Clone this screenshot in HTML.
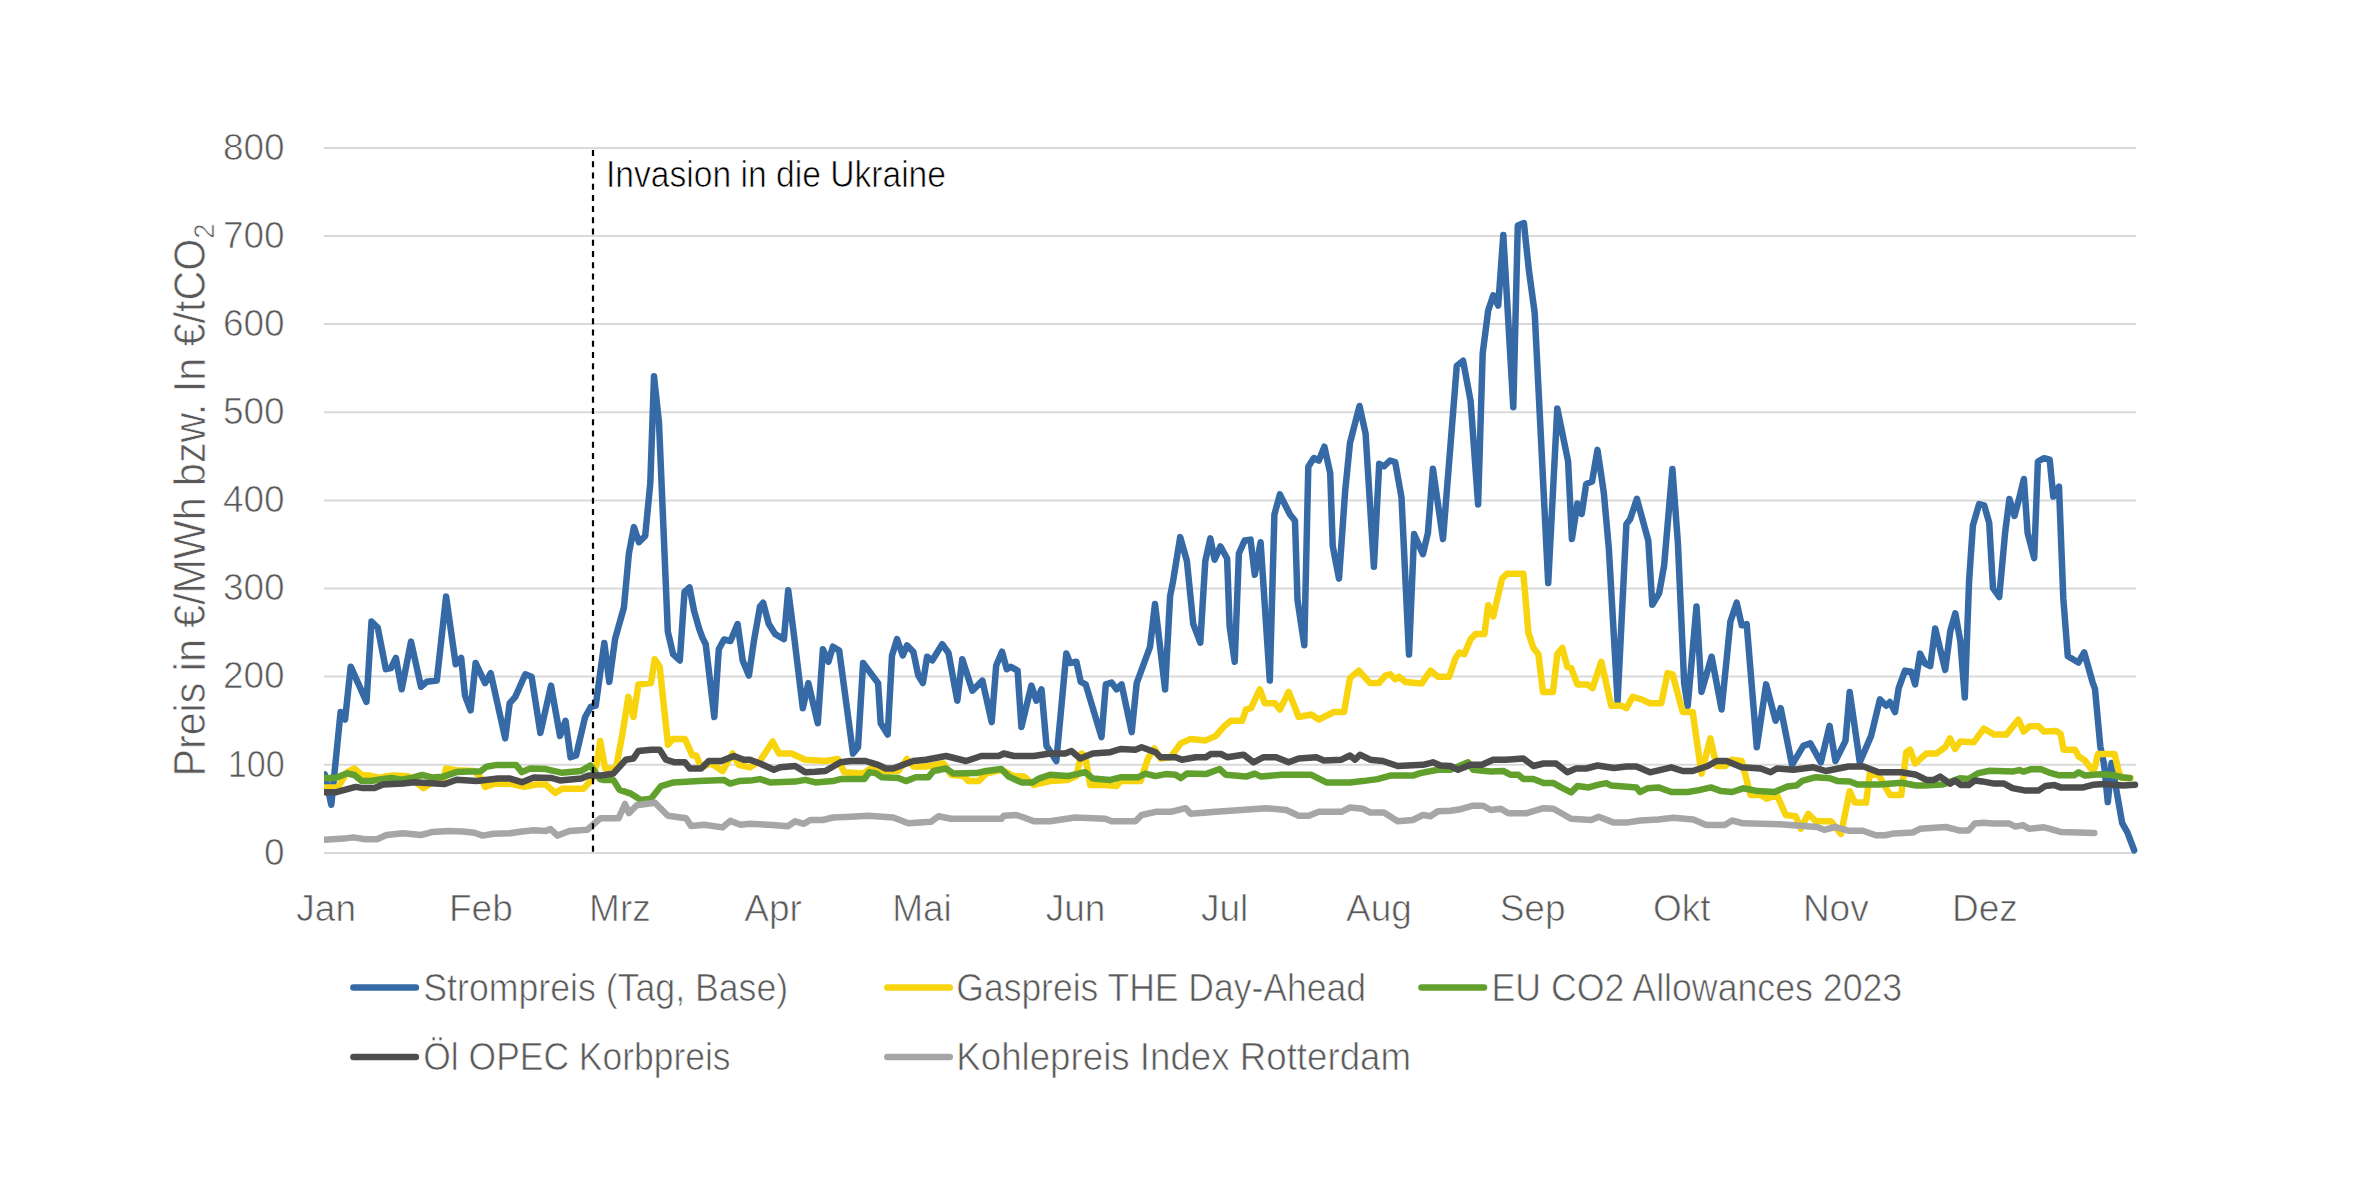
<!DOCTYPE html>
<html><head><meta charset="utf-8"><style>
html,body{margin:0;padding:0;background:#fff;}
svg{display:block;}
text{font-family:"Liberation Sans",sans-serif;stroke:#fff;stroke-width:0.7px;}
.ax{font-size:37px;fill:#595959;}
.ann{font-size:36px;fill:#000;}
.leg{font-size:39px;fill:#595959;}
.yt{font-size:45px;fill:#595959;}
</style></head><body>
<svg width="2357" height="1194" viewBox="0 0 2357 1194">
<rect width="2357" height="1194" fill="#fff"/>
<defs><clipPath id="pa"><rect x="324" y="0" width="1900" height="1194"/></clipPath></defs>
<line x1="324" y1="852.9" x2="2136" y2="852.9" stroke="#D9D9D9" stroke-width="2"/>
<line x1="324" y1="764.8" x2="2136" y2="764.8" stroke="#D9D9D9" stroke-width="2"/>
<line x1="324" y1="676.6" x2="2136" y2="676.6" stroke="#D9D9D9" stroke-width="2"/>
<line x1="324" y1="588.5" x2="2136" y2="588.5" stroke="#D9D9D9" stroke-width="2"/>
<line x1="324" y1="500.4" x2="2136" y2="500.4" stroke="#D9D9D9" stroke-width="2"/>
<line x1="324" y1="412.3" x2="2136" y2="412.3" stroke="#D9D9D9" stroke-width="2"/>
<line x1="324" y1="324.1" x2="2136" y2="324.1" stroke="#D9D9D9" stroke-width="2"/>
<line x1="324" y1="236.0" x2="2136" y2="236.0" stroke="#D9D9D9" stroke-width="2"/>
<line x1="324" y1="147.9" x2="2136" y2="147.9" stroke="#D9D9D9" stroke-width="2"/>
<text x="284.7" y="864.7" text-anchor="end" class="ax">0</text>
<text x="284.7" y="776.6" text-anchor="end" class="ax" textLength="57" lengthAdjust="spacingAndGlyphs">100</text>
<text x="284.7" y="688.4" text-anchor="end" class="ax">200</text>
<text x="284.7" y="600.3" text-anchor="end" class="ax">300</text>
<text x="284.7" y="512.2" text-anchor="end" class="ax">400</text>
<text x="284.7" y="424.1" text-anchor="end" class="ax">500</text>
<text x="284.7" y="335.9" text-anchor="end" class="ax">600</text>
<text x="284.7" y="247.8" text-anchor="end" class="ax">700</text>
<text x="284.7" y="159.7" text-anchor="end" class="ax">800</text>
<text x="326.2" y="921" text-anchor="middle" class="ax">Jan</text>
<text x="480.9" y="921" text-anchor="middle" class="ax">Feb</text>
<text x="619.9" y="921" text-anchor="middle" class="ax">Mrz</text>
<text x="773.1" y="921" text-anchor="middle" class="ax">Apr</text>
<text x="922" y="921" text-anchor="middle" class="ax">Mai</text>
<text x="1075.5" y="921" text-anchor="middle" class="ax">Jun</text>
<text x="1224.7" y="921" text-anchor="middle" class="ax">Jul</text>
<text x="1379" y="921" text-anchor="middle" class="ax">Aug</text>
<text x="1532.6" y="921" text-anchor="middle" class="ax">Sep</text>
<text x="1681.7" y="921" text-anchor="middle" class="ax">Okt</text>
<text x="1835.8" y="921" text-anchor="middle" class="ax">Nov</text>
<text x="1984.9" y="921" text-anchor="middle" class="ax">Dez</text>
<polyline points="324.8,774.4 331.3,804.7 340.6,712.0 345.1,719.5 350.7,666.7 366.5,701.9 371.5,621.5 377.8,627.8 385.8,669.2 391.0,668.0 395.9,658.0 401.7,689.3 411.0,641.6 421.0,686.8 426.8,681.8 436.8,680.6 446.1,596.4 455.7,664.2 461.2,658.0 465.0,695.7 470.6,710.3 475.6,663.0 485.1,683.1 490.7,673.1 505.2,738.4 509.7,703.2 515.3,696.9 525.3,674.3 531.6,676.8 540.4,732.9 551.0,685.6 560.0,735.9 565.5,720.8 570.6,757.2 576.1,755.5 585.1,717.0 590.7,707.0 595.7,705.7 604.3,643.0 609.3,681.9 615.1,638.9 623.9,607.5 628.9,553.5 633.9,527.1 638.9,542.2 645.2,535.9 650.3,483.1 654.0,376.3 659.0,422.8 667.8,631.4 673.1,654.2 679.8,660.5 684.5,592.0 689.5,587.5 694.2,611.3 699.2,628.8 702.5,637.9 705.7,644.2 714.3,717.0 718.8,649.2 724.0,639.5 730.5,641.0 737.6,624.0 742.7,660.5 748.9,675.6 754.0,640.4 760.0,606.5 763.1,602.7 768.8,624.1 775.1,634.1 783.9,639.1 788.2,590.2 794.0,635.4 802.8,708.2 808.3,683.1 817.8,723.3 822.9,649.2 828.4,661.8 832.9,646.7 839.2,650.5 853.0,753.5 858.0,747.2 863.1,663.0 878.1,683.1 880.7,723.3 887.7,734.6 892.0,655.5 897.0,639.1 902.8,655.5 907.0,645.4 913.3,651.7 918.3,675.6 922.9,683.1 927.1,656.7 932.2,660.5 942.2,644.2 948.5,653.0 957.3,700.7 962.3,659.2 972.4,690.7 982.4,680.6 991.7,722.1 996.2,665.5 1002.0,651.7 1006.8,669.3 1010.8,666.8 1017.6,670.6 1021.4,727.1 1031.4,685.6 1036.4,700.7 1041.5,689.4 1046.5,745.9 1050.0,751.0 1056.3,761.0 1066.3,653.5 1070.1,663.0 1076.4,661.8 1080.7,681.9 1085.7,684.4 1101.5,737.1 1105.8,684.4 1111.6,682.6 1116.6,689.4 1121.6,684.4 1131.7,732.1 1136.7,683.1 1150.0,647.0 1155.0,604.0 1165.1,689.4 1170.1,596.2 1173.1,581.1 1180.2,537.1 1186.9,561.0 1193.2,623.8 1200.3,642.7 1205.3,561.0 1210.3,538.4 1214.6,559.7 1220.4,546.4 1227.1,558.5 1229.6,626.3 1234.7,661.8 1238.9,553.5 1244.7,540.4 1250.5,539.6 1254.8,574.8 1260.6,542.2 1269.8,680.6 1274.4,514.5 1279.9,494.4 1284.9,504.5 1290.0,514.5 1295.0,520.8 1297.5,600.0 1304.3,645.2 1308.3,466.8 1313.8,458.0 1318.8,460.5 1324.4,446.7 1330.2,473.1 1332.7,545.9 1339.0,578.6 1345.2,490.7 1350.0,442.9 1359.5,406.0 1365.6,433.6 1373.9,566.8 1379.2,463.8 1383.9,466.3 1390.0,460.5 1395.2,462.0 1401.5,497.5 1409.0,654.5 1414.1,534.1 1422.9,554.2 1427.9,532.9 1432.9,468.8 1443.0,539.1 1456.8,365.8 1463.1,360.8 1470.6,401.0 1478.1,504.5 1482.7,353.2 1488.2,310.5 1493.2,295.4 1498.2,305.5 1503.3,235.1 1513.3,407.2 1517.8,225.6 1523.9,223.1 1528.9,270.3 1534.7,313.0 1548.2,583.0 1557.3,408.5 1568.1,461.3 1571.9,539.1 1577.4,503.5 1581.7,514.0 1586.2,483.9 1592.0,481.6 1597.5,449.9 1603.8,492.7 1608.8,547.9 1617.6,701.0 1626.4,524.1 1630.2,519.0 1636.9,498.9 1648.3,540.6 1652.3,604.7 1659.1,593.4 1664.1,565.7 1672.4,469.0 1677.9,543.1 1684.2,683.8 1687.7,706.0 1696.5,606.5 1701.5,691.9 1711.6,656.7 1721.6,709.5 1730.4,621.6 1736.7,602.7 1741.7,625.3 1746.7,624.1 1756.8,747.2 1766.1,684.4 1775.6,720.8 1780.7,708.2 1792.0,764.8 1803.3,745.9 1810.3,743.4 1820.9,762.3 1829.6,725.8 1835.4,761.0 1845.5,740.9 1849.7,691.9 1859.8,762.3 1871.1,735.9 1879.9,699.4 1886.2,705.7 1889.9,702.0 1895.0,712.0 1898.7,688.1 1905.0,670.6 1911.3,671.8 1915.1,684.4 1920.1,653.6 1925.1,663.6 1930.2,666.1 1935.2,628.4 1945.2,669.9 1950.3,631.0 1955.3,613.4 1960.3,641.0 1964.8,697.5 1969.1,580.7 1972.9,525.4 1979.1,504.1 1984.2,505.3 1989.2,522.9 1993.0,588.2 1999.2,597.0 2005.2,532.0 2009.4,499.0 2014.5,516.0 2019.3,497.8 2023.9,479.0 2027.6,533.0 2034.2,558.2 2037.9,461.5 2044.0,458.2 2049.7,459.7 2053.3,496.6 2059.0,486.6 2063.3,598.4 2067.8,656.2 2078.4,662.5 2084.2,652.4 2092.5,682.0 2095.0,689.0 2100.3,746.3 2104.1,764.4 2107.8,802.1 2111.6,762.9 2122.2,823.2 2127.4,832.3 2134.2,850.4" fill="none" stroke="#356AA6" stroke-width="6.5" stroke-linejoin="round" stroke-linecap="round" clip-path="url(#pa)"/>
<polyline points="324.2,787.5 337.8,787.5 347.3,772.1 354.4,768.5 361.6,775.0 369.9,775.6 379.4,778.0 386.5,776.2 393.7,775.6 407.9,776.2 415.0,781.6 423.4,788.1 432.9,782.2 443.5,779.2 445.9,768.5 456.6,770.3 474.4,770.9 481.6,779.2 485.1,786.9 495.8,783.4 512.4,784.0 524.3,786.9 536.2,784.5 545.7,784.5 555.2,792.9 562.3,788.7 583.7,788.7 592.0,779.2 596.8,763.8 600.2,741.0 605.2,768.5 615.8,768.5 622.1,735.9 628.3,696.9 633.4,717.0 638.4,684.4 651.0,683.1 654.7,659.2 659.7,666.8 668.0,744.7 673.1,738.9 684.9,738.9 692.4,755.5 696.2,755.5 701.2,767.3 711.3,763.5 722.6,771.0 732.6,753.5 738.9,764.8 750.0,767.3 760.0,761.0 772.6,741.4 778.9,753.5 791.5,753.5 805.3,759.7 825.4,761.0 837.9,759.0 844.2,772.3 863.1,773.6 870.6,768.5 883.2,771.0 898.2,771.0 907.0,759.0 913.3,766.5 925.9,766.5 943.5,763.5 951.0,774.8 963.6,776.1 968.6,781.1 978.6,781.1 986.2,773.6 1001.3,769.8 1013.8,776.1 1023.9,776.6 1033.9,784.9 1050.0,781.1 1067.6,779.9 1076.4,776.1 1081.4,753.5 1085.2,756.0 1090.2,784.9 1105.3,784.9 1116.6,786.1 1120.4,781.1 1140.5,781.1 1148.0,758.5 1154.3,748.4 1160.6,758.5 1170.6,757.2 1180.7,743.4 1190.7,738.9 1205.8,740.4 1215.8,735.9 1223.4,727.1 1230.9,720.8 1242.2,720.8 1246.0,709.5 1251.0,708.2 1259.8,689.4 1264.8,703.2 1274.9,703.2 1279.9,709.5 1288.7,691.9 1298.7,717.0 1311.3,714.5 1318.8,719.5 1333.9,712.0 1344.0,712.0 1350.0,678.1 1358.8,670.6 1370.1,683.1 1378.9,683.1 1385.2,675.6 1390.2,674.3 1395.2,679.3 1399.0,676.8 1405.3,681.9 1421.6,683.6 1430.4,670.6 1437.9,676.8 1449.2,676.8 1455.5,658.0 1459.3,652.5 1464.3,654.2 1470.6,639.1 1475.6,634.1 1484.4,634.1 1488.2,605.2 1493.2,616.5 1502.0,578.8 1507.0,573.8 1523.4,573.8 1528.4,632.9 1533.4,647.9 1538.4,654.2 1543.0,691.9 1553.0,691.9 1557.3,654.2 1562.3,647.9 1567.3,666.8 1571.1,668.0 1577.4,684.4 1587.4,684.4 1592.5,688.1 1601.3,661.8 1611.3,705.7 1621.4,705.7 1626.4,708.2 1632.7,696.9 1641.5,699.4 1650.0,703.2 1661.3,703.2 1667.6,673.1 1672.6,674.3 1682.7,712.0 1692.7,712.0 1701.5,773.6 1710.3,738.4 1716.6,766.0 1725.4,766.0 1731.7,759.7 1741.7,761.0 1750.5,794.9 1760.6,794.9 1766.8,798.7 1776.9,794.9 1785.7,815.0 1795.7,816.3 1800.8,828.8 1808.3,813.8 1815.8,821.3 1830.9,821.3 1841.0,833.9 1849.7,791.2 1854.8,802.5 1866.1,802.5 1869.8,773.6 1878.6,774.8 1889.9,794.9 1901.3,794.9 1906.3,752.2 1910.1,749.7 1915.1,763.5 1926.4,753.5 1936.4,753.5 1945.2,747.2 1950.0,738.4 1955.1,749.0 1960.4,741.4 1973.9,742.2 1983.7,728.6 1994.3,734.6 2006.3,734.6 2018.4,719.6 2023.7,731.6 2029.7,726.3 2038.7,726.3 2044.0,731.6 2056.1,730.9 2060.6,733.9 2063.6,749.7 2074.9,749.7 2078.7,756.5 2084.7,760.3 2091.3,769.0 2094.3,769.0 2098.0,753.9 2114.6,753.9 2118.4,770.5 2121.4,778.0 2130.5,778.0" fill="none" stroke="#F7D40E" stroke-width="6.5" stroke-linejoin="round" stroke-linecap="round" clip-path="url(#pa)"/>
<polyline points="324.2,778.0 335.4,778.0 347.3,773.3 354.4,775.0 361.6,781.0 371.1,781.0 381.8,779.2 391.3,778.0 400.8,779.8 411.5,778.0 422.2,775.0 431.7,777.4 442.4,776.8 456.6,772.1 468.5,771.5 480.4,771.5 486.3,766.7 497.0,764.9 516.0,764.9 521.9,772.1 530.3,768.5 545.7,769.1 561.2,772.7 581.3,770.9 590.3,765.5 600.0,779.2 603.2,779.9 613.3,779.9 619.5,789.9 630.9,793.7 640.9,800.0 651.0,798.7 661.0,786.1 673.6,782.4 698.7,781.1 723.8,779.9 730.1,783.6 738.9,781.1 750.0,780.6 760.0,779.1 770.1,782.4 795.2,781.6 805.3,779.9 815.3,782.4 832.9,781.1 840.5,779.1 864.3,779.1 869.3,772.3 875.6,773.1 881.9,777.3 898.2,778.1 905.8,781.1 915.8,777.3 928.4,777.3 933.4,771.0 946.0,768.5 953.5,773.6 976.1,773.1 986.2,771.0 1001.3,769.0 1008.8,776.6 1021.4,782.4 1032.7,782.4 1038.9,778.6 1050.0,774.8 1067.6,776.1 1085.2,772.3 1092.7,778.6 1110.3,779.9 1120.4,777.3 1137.9,777.3 1145.5,773.6 1155.5,776.1 1165.6,774.1 1175.6,774.8 1180.7,778.1 1186.9,773.6 1205.8,774.1 1219.6,769.0 1225.9,774.8 1246.0,776.6 1254.8,773.6 1261.1,776.6 1281.2,774.8 1311.3,774.8 1326.4,782.4 1350.0,782.4 1362.6,781.1 1377.6,779.1 1390.2,775.6 1412.8,775.6 1420.4,773.1 1437.9,769.8 1450.5,769.8 1468.1,762.3 1473.1,769.8 1490.7,771.6 1503.3,771.0 1510.8,774.8 1518.3,774.8 1523.4,779.1 1533.4,779.1 1543.5,783.1 1553.5,783.1 1561.1,787.4 1571.1,792.4 1577.4,786.1 1588.7,787.4 1597.5,784.9 1606.3,783.1 1611.3,785.6 1636.4,787.4 1640.0,792.0 1647.4,788.3 1658.4,787.4 1671.3,792.0 1687.9,792.0 1699.0,790.1 1710.9,787.4 1721.1,791.1 1732.1,792.0 1743.2,788.3 1757.9,791.1 1774.5,792.0 1787.4,786.5 1796.6,785.5 1802.1,780.9 1815.0,777.3 1829.8,778.2 1837.1,780.9 1850.0,781.5 1857.4,784.6 1879.5,784.6 1901.6,782.8 1916.3,785.5 1923.7,785.5 1942.1,784.6 1960.0,778.2 1968.6,779.1 1978.4,773.1 1989.8,770.8 2012.4,771.6 2019.2,770.1 2023.7,771.6 2030.5,769.3 2041.0,769.3 2048.5,772.3 2059.1,775.3 2074.2,775.3 2078.7,772.3 2085.0,775.5 2100.3,774.2 2112.4,775.0 2121.4,777.2 2129.7,778.0" fill="none" stroke="#62A02E" stroke-width="6.5" stroke-linejoin="round" stroke-linecap="round" clip-path="url(#pa)"/>
<polyline points="324.2,792.3 335.4,792.3 355.6,786.9 362.8,788.1 374.6,788.1 383.0,784.5 403.2,783.4 413.8,782.2 444.7,784.0 456.6,779.8 476.8,781.0 498.2,778.6 510.1,778.6 521.9,782.2 533.8,777.4 551.6,778.0 560.0,780.4 581.3,778.6 588.5,775.6 600.0,775.6 605.7,774.8 613.3,773.6 625.8,759.7 633.4,758.5 638.4,751.0 651.0,749.7 659.7,749.7 666.0,759.7 674.8,762.3 684.9,762.3 689.9,768.5 701.2,768.5 708.7,761.0 721.3,761.0 733.9,756.0 743.9,759.7 750.0,759.7 760.0,763.5 773.9,769.8 780.2,767.3 795.2,766.0 805.3,772.3 815.3,771.8 825.4,771.0 840.5,762.3 850.5,761.0 865.6,761.0 878.1,764.8 885.7,768.5 893.2,768.5 913.3,761.0 925.9,759.7 946.0,756.0 956.0,758.5 966.1,761.0 981.2,756.0 998.7,756.0 1003.8,753.5 1013.8,756.0 1033.9,756.0 1050.0,753.5 1065.1,753.5 1071.4,751.0 1080.2,758.5 1092.7,753.5 1110.3,752.2 1120.4,749.0 1135.4,749.7 1141.7,747.2 1155.5,752.2 1160.6,757.2 1175.6,757.2 1181.9,759.7 1195.7,757.2 1205.8,757.2 1210.8,754.0 1220.9,754.0 1227.1,757.2 1243.5,754.7 1253.5,762.3 1263.6,757.2 1276.1,757.2 1288.7,762.3 1298.7,758.5 1316.3,757.2 1323.9,760.5 1341.5,759.7 1350.0,755.5 1355.0,759.7 1360.0,754.7 1370.1,759.7 1382.7,761.0 1397.7,766.0 1422.9,764.8 1432.9,762.3 1440.5,765.5 1450.5,766.0 1458.0,769.8 1470.6,764.8 1481.9,764.8 1493.2,759.7 1505.8,759.7 1523.4,758.5 1533.4,766.0 1543.5,763.5 1556.0,763.5 1567.3,772.3 1576.1,768.5 1586.2,768.5 1597.5,765.5 1613.8,768.0 1626.4,766.5 1636.4,766.5 1650.0,772.3 1671.4,767.3 1682.7,771.0 1692.7,771.0 1707.8,766.0 1716.6,761.0 1726.6,761.0 1741.7,767.3 1760.6,768.5 1770.6,772.3 1776.9,768.5 1793.2,769.8 1813.3,767.3 1825.9,771.0 1848.5,766.5 1863.6,766.5 1878.6,772.3 1901.3,772.3 1916.3,774.8 1926.4,779.9 1933.9,779.9 1940.2,776.6 1950.0,783.6 1955.1,780.6 1961.1,785.1 1968.6,785.1 1974.7,780.6 1982.2,781.4 1994.3,783.6 2004.1,783.6 2012.4,788.1 2024.4,790.4 2038.7,790.4 2045.5,785.9 2054.6,785.1 2060.6,787.4 2083.2,787.4 2092.8,784.8 2104.8,784.0 2122.9,785.5 2135.0,784.8" fill="none" stroke="#4D4D4D" stroke-width="6.5" stroke-linejoin="round" stroke-linecap="round" clip-path="url(#pa)"/>
<polyline points="324.2,839.8 343.8,838.6 353.3,837.4 365.1,839.2 377.0,839.2 386.5,835.0 403.2,833.3 421.0,835.0 431.7,832.1 448.3,830.9 462.6,831.5 474.4,832.7 482.7,835.6 493.4,833.8 510.1,833.3 521.9,831.5 533.8,830.3 545.7,830.9 550.5,829.1 557.6,835.6 569.5,830.9 587.3,829.7 600.4,818.3 618.5,818.3 625.0,804.0 628.9,813.1 636.7,805.3 654.9,802.7 667.9,815.7 686.0,818.3 691.2,826.1 704.2,824.8 722.4,827.4 730.2,820.9 740.5,824.8 750.0,823.8 772.6,825.1 787.7,826.3 795.2,821.3 804.0,823.8 810.3,820.0 822.9,820.0 832.9,817.5 850.5,816.8 868.1,815.8 893.2,817.5 908.3,823.3 930.9,821.8 938.4,816.3 951.0,818.8 976.1,818.8 1001.3,818.8 1003.8,815.8 1016.3,815.0 1023.9,817.5 1033.9,821.3 1050.0,821.3 1075.1,817.5 1105.3,818.8 1111.6,821.3 1135.4,821.3 1141.7,815.0 1155.5,811.8 1170.6,811.8 1185.7,808.2 1190.7,813.8 1215.8,811.8 1241.0,810.0 1266.1,808.2 1286.2,810.0 1298.7,815.8 1308.8,815.8 1318.8,811.8 1341.5,811.8 1350.0,807.5 1362.6,808.7 1370.1,812.5 1383.9,812.5 1397.7,821.3 1412.8,820.0 1422.9,815.0 1430.4,816.3 1437.9,811.3 1450.5,810.8 1460.6,809.2 1473.1,805.7 1483.2,805.7 1490.7,810.0 1500.8,808.7 1508.3,813.3 1525.9,813.3 1543.5,808.2 1553.5,808.7 1571.1,818.8 1591.2,820.0 1598.7,816.8 1613.8,822.6 1626.4,822.6 1640.0,820.5 1658.4,819.6 1673.2,817.8 1693.4,819.6 1706.3,825.1 1724.7,825.1 1732.1,820.5 1743.2,823.3 1780.0,824.2 1816.9,827.0 1824.2,829.8 1835.3,827.0 1848.2,830.7 1862.9,830.7 1875.8,835.3 1885.0,835.3 1894.2,833.4 1912.7,832.5 1920.0,828.8 1945.8,827.0 1960.0,830.7 1961.1,830.4 1968.6,830.4 1974.7,823.6 1983.7,822.8 1992.8,823.6 2009.4,823.6 2015.4,826.6 2022.9,825.1 2029.0,828.8 2044.0,827.3 2050.1,828.8 2060.6,831.9 2078.7,832.6 2094.3,833.0" fill="none" stroke="#A6A6A6" stroke-width="6.5" stroke-linejoin="round" stroke-linecap="round" clip-path="url(#pa)"/>
<line x1="593" y1="150" x2="593" y2="853.5" stroke="#000" stroke-width="2.2" stroke-dasharray="6,5.22"/>
<text x="606" y="186.7" class="ann" textLength="340" lengthAdjust="spacingAndGlyphs">Invasion in die Ukraine</text>
<line x1="353.4" y1="987.5" x2="415.9" y2="987.5" stroke="#356AA6" stroke-width="6.5" stroke-linecap="round"/>
<text x="423.3" y="1000.5" class="leg" textLength="364.9" lengthAdjust="spacingAndGlyphs">Strompreis (Tag, Base)</text>
<line x1="887.3" y1="987.5" x2="949.8" y2="987.5" stroke="#F7D40E" stroke-width="6.5" stroke-linecap="round"/>
<text x="956.3" y="1000.5" class="leg" textLength="409.6" lengthAdjust="spacingAndGlyphs">Gaspreis THE Day-Ahead</text>
<line x1="1421.5" y1="987.5" x2="1484.0" y2="987.5" stroke="#62A02E" stroke-width="6.5" stroke-linecap="round"/>
<text x="1491.5" y="1000.5" class="leg" textLength="410.7" lengthAdjust="spacingAndGlyphs">EU CO2 Allowances 2023</text>
<line x1="353.4" y1="1057.1" x2="415.9" y2="1057.1" stroke="#4D4D4D" stroke-width="6.5" stroke-linecap="round"/>
<text x="423.3" y="1070.1" class="leg" textLength="307.2" lengthAdjust="spacingAndGlyphs">Öl OPEC Korbpreis</text>
<line x1="887.3" y1="1057.1" x2="949.8" y2="1057.1" stroke="#A6A6A6" stroke-width="6.5" stroke-linecap="round"/>
<text x="956.3" y="1070.1" class="leg" textLength="454.7" lengthAdjust="spacingAndGlyphs">Kohlepreis Index Rotterdam</text>
<text transform="translate(204.7,776.5) rotate(-90)" class="yt" textLength="553" lengthAdjust="spacingAndGlyphs">Preis in €/MWh bzw. In €/tCO<tspan font-size="30" dy="9">2</tspan></text>
</svg></body></html>
